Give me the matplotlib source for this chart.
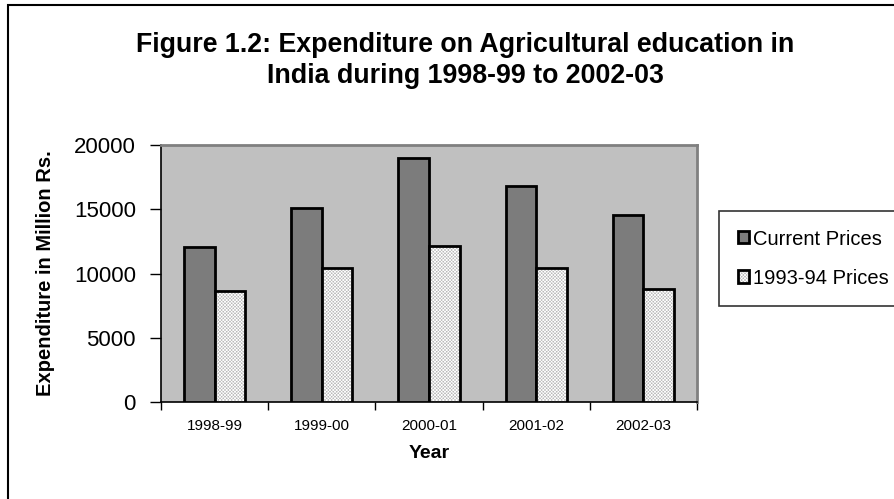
import matplotlib
matplotlib.use("Agg")
import matplotlib.pyplot as plt
from matplotlib.patches import Patch, Rectangle
from matplotlib.legend_handler import HandlerPatch
import numpy as np

plt.rcParams['font.family'] = ['Liberation Sans', 'DejaVu Sans']

years = ['1998-99', '1999-00', '2000-01', '2001-02', '2002-03']
current_prices = [12100, 15100, 19000, 16800, 14550]
constant_prices = [8600, 10400, 12150, 10400, 8800]
series_labels = ['Current Prices', '1993-94 Prices']
y_ticks = [0, 5000, 10000, 15000, 20000]

W, H = 895, 499
fig = plt.figure(figsize=(W / 100, H / 100), dpi=100)
fig.patch.set_facecolor('white')

# outer chart frame (runs off the right and bottom edges)
fig.add_artist(Rectangle((8 / W, -0.05), 1.2, 1 - 5 / H + 0.05,
                         transform=fig.transFigure, fill=False,
                         edgecolor='black', linewidth=1.5, zorder=0))

ax = fig.add_axes([161 / W, 1 - 402 / H, (697 - 161) / W, (402 - 145) / H])
ax.set_facecolor('#c0c0c0')

plt.rcParams['hatch.linewidth'] = 0.5
x = np.arange(len(years))
w = 0.286
dark = '#7c7c7c'
light_face = '#b8b8b8'
light_hatch = '#ffffff'

# current prices: solid dark grey
ax.bar(x - w / 2, current_prices, width=w, color=dark,
       edgecolor='black', linewidth=2, zorder=3)
# constant prices: fine light texture, then black outline on top
ax.bar(x + w / 2, constant_prices, width=w, color=light_face,
       edgecolor=light_hatch, hatch='xxxxxxxxxx', linewidth=0, zorder=3)
ax.bar(x + w / 2, constant_prices, width=w, fill=False,
       edgecolor='black', linewidth=2, zorder=4)

ax.set_xlim(-0.5, len(years) - 0.5)
ax.set_ylim(0, 20000)
ax.set_yticks(y_ticks)
ax.set_yticklabels([str(v) for v in y_ticks], fontsize=16)
ax.tick_params(axis='y', direction='out', length=8, width=1, pad=10)

ax.set_xticks(x)
ax.set_xticklabels(years, fontsize=11)
ax.tick_params(axis='x', which='major', length=0, pad=12)
ax.set_xticks(np.arange(len(years) + 1) - 0.5, minor=True)
ax.tick_params(axis='x', which='minor', direction='out', length=6, width=1)

for side in ['left', 'bottom']:
    ax.spines[side].set_color('black')
    ax.spines[side].set_linewidth(1.2)
for side in ['top', 'right']:
    ax.spines[side].set_color('#808080')
    ax.spines[side].set_linewidth(2)

ax.set_xlabel('Year', fontsize=14, fontweight='bold', labelpad=9)
ax.set_ylabel('Expenditure in Million Rs.', fontsize=14.5, fontweight='bold',
              labelpad=14)

fig.text(0.5 * (136 + 795) / W, 1 - 45 / H,
         'Figure 1.2: Expenditure on Agricultural education in',
         ha='center', va='center', fontsize=19.3, fontweight='bold')
fig.text(0.5 * (136 + 795) / W, 1 - 76 / H,
         'India during 1998-99 to 2002-03',
         ha='center', va='center', fontsize=19.3, fontweight='bold')


class TexturedHandler(HandlerPatch):
    """Legend key: textured fill with a black outline drawn over it."""

    def create_artists(self, legend, orig_handle, xdescent, ydescent,
                       width, height, fontsize, trans):
        base = Rectangle((-xdescent, -ydescent), width, height,
                         facecolor=light_face, edgecolor=light_hatch,
                         hatch='xxxxxxxxxx', linewidth=0, transform=trans)
        outline = Rectangle((-xdescent, -ydescent), width, height,
                            fill=False, edgecolor='black', linewidth=2,
                            transform=trans)
        return [base, outline]


h_current = Patch(facecolor=dark, edgecolor='black', linewidth=2)
h_constant = Patch(facecolor=light_face, edgecolor='black', linewidth=2)
leg = fig.legend([h_current, h_constant], series_labels, loc='upper left',
                 bbox_to_anchor=(719 / W, 1 - 211 / H),
                 bbox_transform=fig.transFigure, fontsize=14.5,
                 frameon=True, fancybox=False, edgecolor='black',
                 handlelength=0.55, handleheight=0.55, handletextpad=0.2,
                 labelspacing=1.0, borderpad=0.92, borderaxespad=0,
                 handler_map={h_constant: TexturedHandler()})
leg.get_frame().set_linewidth(1.2)

fig.savefig('out.png', dpi=100, facecolor='white')
